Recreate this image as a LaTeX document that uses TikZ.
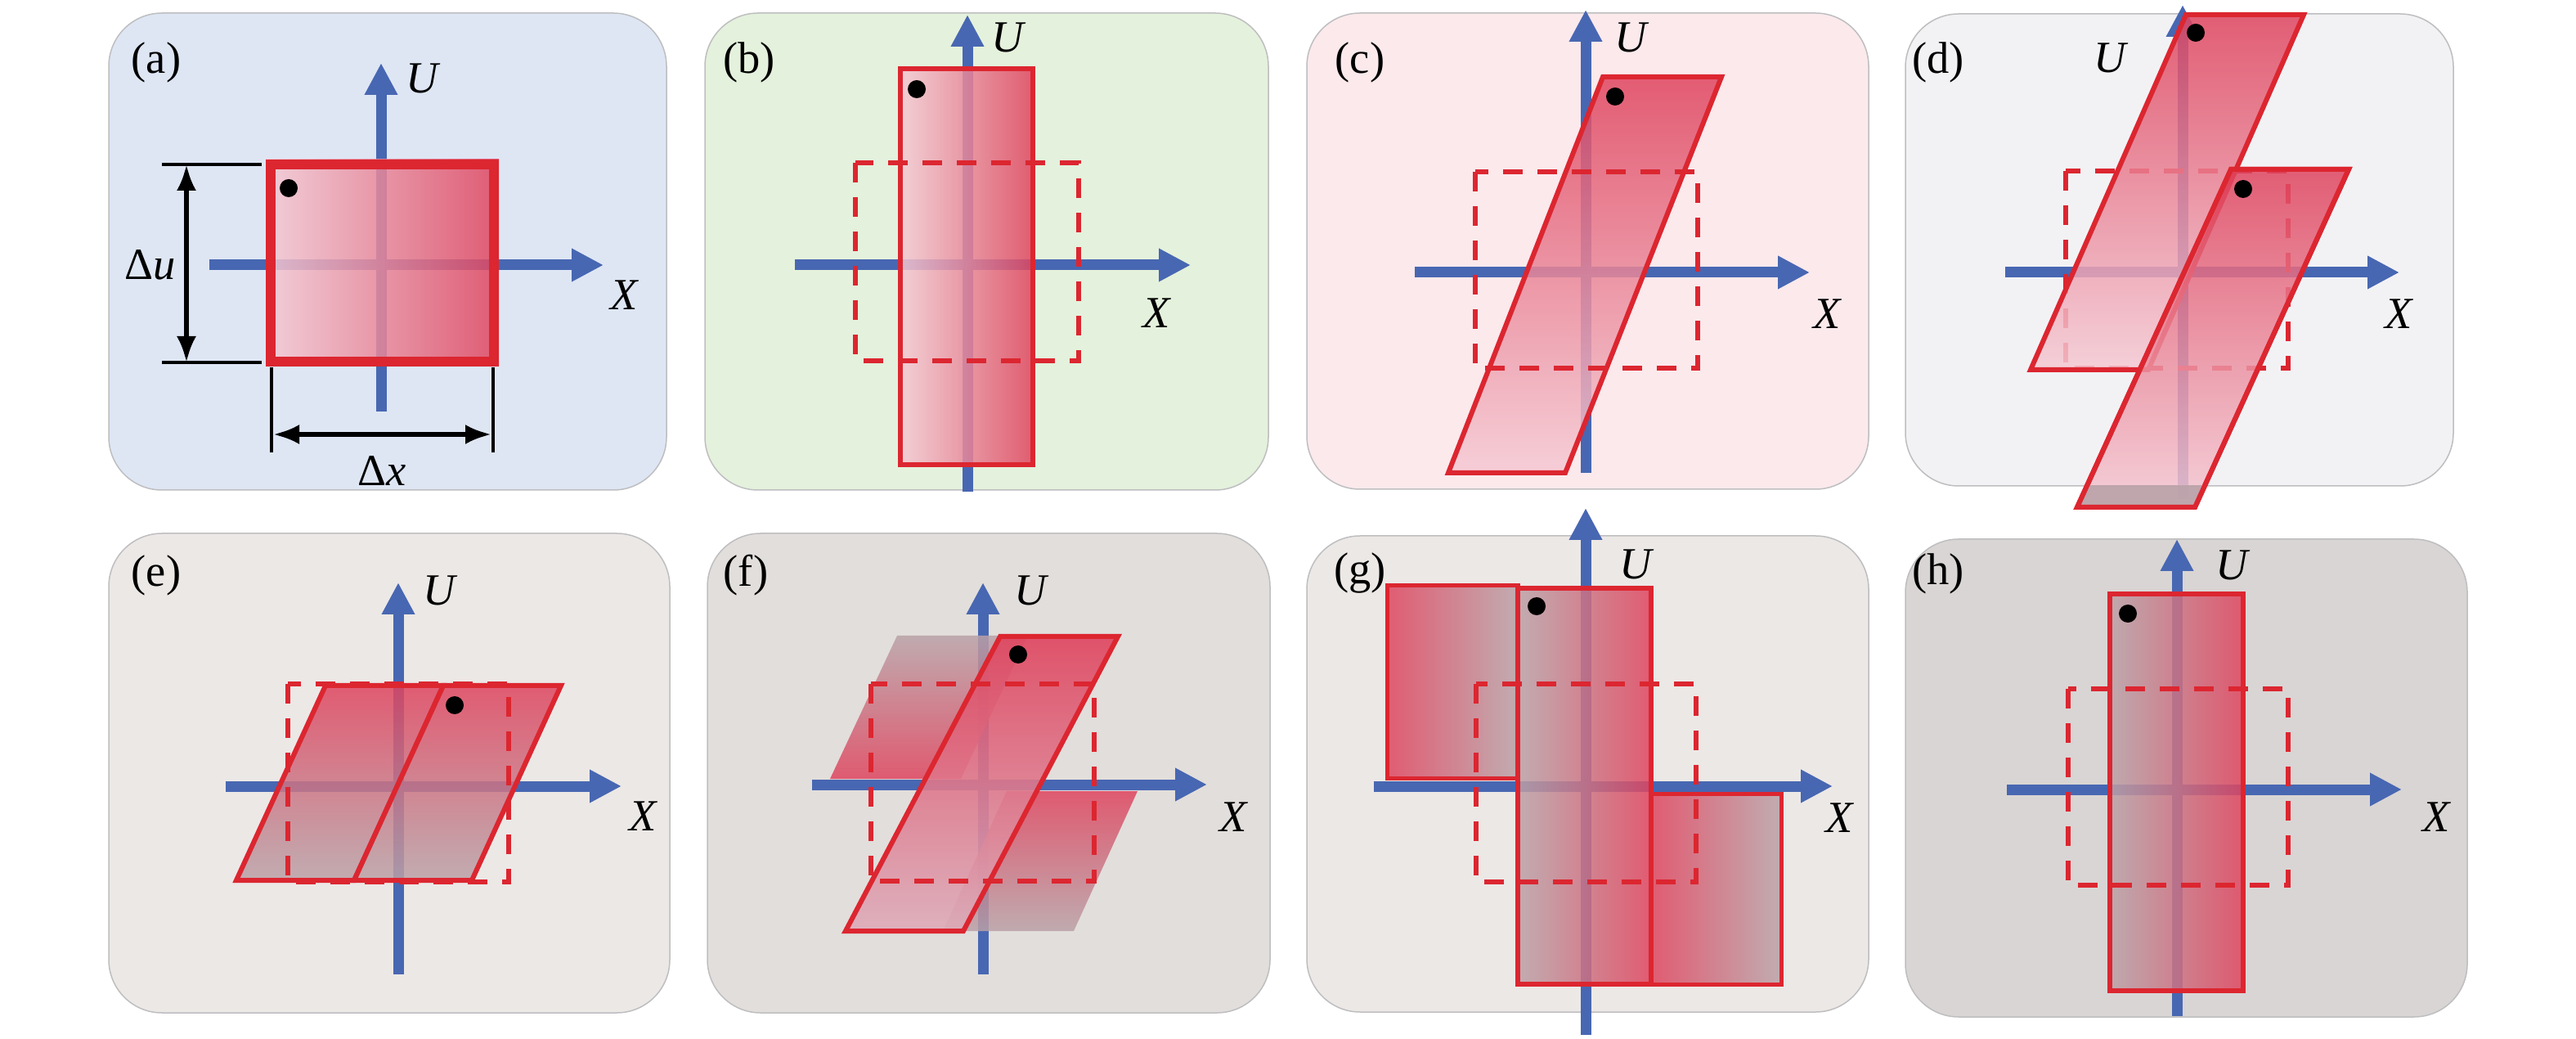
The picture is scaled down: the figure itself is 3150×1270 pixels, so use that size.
\documentclass[tikz,border=0pt]{standalone}
\usepackage{fontspec}
\setmainfont{Liberation Serif}
\usetikzlibrary{arrows.meta}
\definecolor{axisblue}{RGB}{72,103,178}
\definecolor{edgered}{RGB}{220,38,48}
\definecolor{hotred}{RGB}{223,68,94}
\definecolor{palepink}{RGB}{245,202,212}
\definecolor{midpink}{RGB}{222,172,186}
\definecolor{mauve}{RGB}{186,162,168}
\definecolor{rimgray}{RGB}{190,190,192}
\definecolor{bga}{RGB}{222,230,244}
\definecolor{bgb}{RGB}{228,241,220}
\definecolor{bgc}{RGB}{251,233,236}
\definecolor{bgd}{RGB}{242,242,245}
\definecolor{bge}{RGB}{236,232,230}
\definecolor{bgf}{RGB}{226,222,219}
\definecolor{bgg}{RGB}{236,232,230}
\definecolor{bgh}{RGB}{217,213,212}
\begin{document}
\begin{tikzpicture}[x=0.1mm,y=-0.1mm,
  panel/.style={draw=rimgray, line width=0.15mm, rounded corners=6.5mm},
  axis/.style={axisblue, line width=1.3mm, -{Triangle[length=3.9mm,width=3.8mm]}},
  frame/.style={edgered, line width=0.6mm, dash pattern=on 2.4mm off 1.8mm},
  sheet/.style={draw=edgered, line width=0.6mm, fill opacity=0.85},
  ghost/.style={fill opacity=0.85},
  lbl/.style={font=\fontsize{15.5}{18}\selectfont, inner sep=0pt},
  dim/.style={black, line width=0.55mm},
  dimtip/.style={dim, {Latex[length=3.2mm,width=2.4mm]}-{Latex[length=3.2mm,width=2.4mm]}}]
\useasboundingbox (0,0) rectangle (3150,1270);

% (a) initial square
\draw[panel, fill=bga] (133,16) rectangle (815,599);
\draw[axis] (466,503) -- (466,77);
\draw[axis] (256,324) -- (738,324);
\shade[left color=palepink, right color=hotred, fill opacity=0.85] (325,195) rectangle (610,448);
\draw[edgered, line width=1.2mm] (331,201) rectangle (604,442);
\fill (353,230) circle (11);
\coordinate (ut1) at (198,201); \coordinate (ut2) at (320,201);
\coordinate (ub1) at (198,443); \coordinate (ub2) at (320,443);
\draw[dim, line width=0.35mm] (ut1) -- (ut2);
\draw[dim, line width=0.35mm] (ub1) -- (ub2);
\coordinate (du1) at (228,201); \coordinate (du2) at (228,443);
\draw[dimtip] (du1) -- (du2);
\coordinate (xl1) at (332,449); \coordinate (xl2) at (332,553);
\coordinate (xr1) at (603,449); \coordinate (xr2) at (603,553);
\draw[dim, line width=0.35mm] (xl1) -- (xl2);
\draw[dim, line width=0.35mm] (xr1) -- (xr2);
\coordinate (dx1) at (334,531); \coordinate (dx2) at (601,531);
\draw[dimtip] (dx1) -- (dx2);
\node[lbl] (du) at (184,324) {Δ\textit{u}};
\node[lbl] (dx) at (467,576) {Δ\textit{x}};
\node[lbl] (Ua) at (518,96) {\textit{U}};
\node[lbl] (Xa) at (764,361) {\textit{X}};
\node[lbl] (la) at (191,76) {(a)};

% (b) stretched in U
\draw[panel, fill=bgb] (862,16) rectangle (1551,599);
\draw[axis] (1183,601) -- (1183,18);
\draw[axis] (972,324) -- (1456,324);
\draw[sheet, left color=palepink, right color=hotred] (1101,84) rectangle (1263,568);
\fill (1121,109) circle (11);
\draw[frame] (1046,199) rectangle (1319,441);
\node[lbl] (Ub) at (1234,46) {\textit{U}};
\node[lbl] (Xb) at (1415,383) {\textit{X}};
\node[lbl] (lb) at (916,76) {(b)};

% (c) sheared
\draw[panel, fill=bgc] (1598,16) rectangle (2285,598);
\draw[axis] (1939,578) -- (1939,12);
\draw[axis] (1730,333) -- (2213,333);
\draw[sheet, top color=hotred, bottom color=palepink] (1960,94) -- (2105,94) -- (1914,578) -- (1771,578) -- cycle;
\fill (1975,118) circle (11);
\draw[frame] (1804,210) rectangle (2076,450);
\node[lbl] (Uc) at (1996,46) {\textit{U}};
\node[lbl] (Xc) at (2235,384) {\textit{X}};
\node[lbl] (lc) at (1663,76) {(c)};

% (d) two sheets
\draw[panel, fill=bgd] (2330,17) rectangle (3000,594);
\draw[axis] (2669,610) -- (2669,6);
\draw[axis] (2452,333) -- (2934,333);
\draw[frame] (2526,209) rectangle (2798,450);
\draw[sheet, top color=hotred, bottom color=palepink] (2673,18) -- (2817,18) -- (2627,452) -- (2483,452) -- cycle;
\fill (2685,40) circle (11);
\draw[sheet, top color=hotred, bottom color=palepink] (2728,207) -- (2872,207) -- (2684,620) -- (2540,620) -- cycle;
\begin{scope}
  \clip (2300,594) rectangle (3150,640);
  \fill[mauve, fill opacity=0.9] (2728,207) -- (2872,207) -- (2684,620) -- (2540,620) -- cycle;
\end{scope}
\draw[edgered, line width=0.6mm] (2728,207) -- (2872,207) -- (2684,620) -- (2540,620) -- cycle;
\fill (2743,231) circle (11);
\node[lbl] (Ud) at (2582,71) {\textit{U}};
\node[lbl] (Xd) at (2934,384) {\textit{X}};
\node[lbl] (ld) at (2370,76) {(d)};

% (e) folded back
\draw[panel, fill=bge] (133,652) rectangle (819,1238);
\draw[axis] (487,1191) -- (487,712);
\draw[axis] (276,961) -- (760,961);
\draw[sheet, top color=hotred, bottom color=mauve] (398,838) -- (542,838) -- (433,1076) -- (289,1076) -- cycle;
\draw[sheet, top color=hotred, bottom color=mauve] (542,838) -- (686,838) -- (577,1076) -- (433,1076) -- cycle;
\fill (556,862) circle (11);
\draw[frame] (352,836) rectangle (622,1078);
\node[lbl] (Ue) at (539,722) {\textit{U}};
\node[lbl] (Xe) at (787,998) {\textit{X}};
\node[lbl] (le) at (191,703) {(e)};

% (f) sheared with ghosts
\draw[panel, fill=bgf] (865,652) rectangle (1553,1238);
\draw[axis] (1202,1191) -- (1202,712);
\draw[axis] (993,959) -- (1476,959);
\path[ghost, top color=mauve, bottom color=hotred] (1097,777) -- (1257,777) -- (1175,952) -- (1015,952) -- cycle;
\path[ghost, top color=hotred, bottom color=mauve] (1231,967) -- (1391,967) -- (1313,1138) -- (1153,1138) -- cycle;
\draw[sheet, fill opacity=0.9, top color=hotred, bottom color=midpink] (1223,778) -- (1367,778) -- (1178,1138) -- (1034,1138) -- cycle;
\fill (1245,800) circle (11);
\draw[frame] (1065,836) rectangle (1338,1077);
\node[lbl] (Uf) at (1262,722) {\textit{U}};
\node[lbl] (Xf) at (1509,999) {\textit{X}};
\node[lbl] (lf) at (912,703) {(f)};

% (g) stretched with side blocks
\draw[panel, fill=bgg] (1598,655) rectangle (2285,1237);
\draw[axis] (1939,1265) -- (1939,621);
\draw[axis] (1680,961) -- (2241,961);
\draw[sheet, line width=0.5mm, left color=hotred, right color=mauve] (1696,716) rectangle (1856,951);
\draw[sheet, line width=0.5mm, left color=hotred, right color=mauve] (2019,970) rectangle (2178,1203);
\draw[sheet, left color=mauve, right color=hotred] (1856,719) rectangle (2019,1203);
\fill (1879,741) circle (11);
\draw[frame] (1805,836) rectangle (2074,1078);
\node[lbl] (Ug) at (2002,690) {\textit{U}};
\node[lbl] (Xg) at (2250,1000) {\textit{X}};
\node[lbl] (lg) at (1663,700) {(g)};

% (h) final
\draw[panel, fill=bgh] (2330,659) rectangle (3017,1243);
\draw[axis] (2662,1242) -- (2662,659);
\draw[axis] (2454,965) -- (2937,965);
\draw[sheet, left color=mauve, right color=hotred] (2580,726) rectangle (2743,1211);
\fill (2602,750) circle (11);
\draw[frame] (2529,842) rectangle (2798,1082);
\node[lbl] (Uh) at (2731,691) {\textit{U}};
\node[lbl] (Xh) at (2980,999) {\textit{X}};
\node[lbl] (lh) at (2370,701) {(h)};
\end{tikzpicture}
\end{document}
